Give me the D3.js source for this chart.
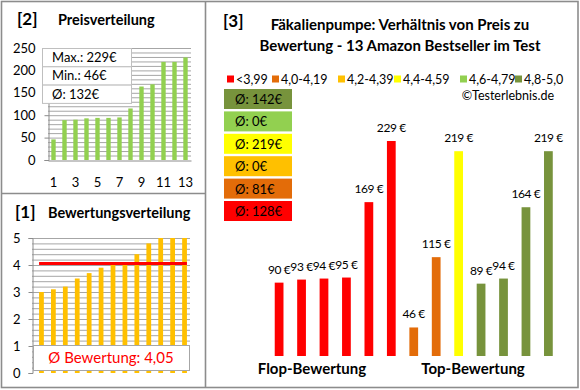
<!DOCTYPE html>
<html>
<head>
<meta charset="utf-8">
<script src="https://cdn.jsdelivr.net/npm/d3@7"></script>
<style>
  body { margin: 0; background: #fff; }
  svg { display: block; font-family: Lato, "Open Sans", sans-serif; }
</style>
</head>
<body>
<div class="chart"></div>
<script>

// ===============================
// Data
// ===============================

// prices of the 13 bestsellers, in the order of the right chart
const productPrices = [90, 93, 94, 95, 169, 229, 46, 115, 219, 89, 94, 164, 219];
// ratings of the same products
const productRatings = [3.0, 3.1, 3.2, 3.5, 3.7, 3.9, 4.0, 4.1, 4.4, 4.8, 5.0, 5.0, 5.0];

const groupLabels = ["<3,99", "4,0-4,19", "4,2-4,39", "4,4-4,59", "4,6-4,79", "4,8-5,0"];
const groupColors = ["#ff0000", "#e36c09", "#ffc000", "#ffff00", "#92d050", "#77933c"];
const groupThresholds = [4.0, 4.2, 4.4, 4.6, 4.8];

const priceTicks = [0, 50, 100, 150, 200, 250];
const priceXTicks = [1, 3, 5, 7, 9, 11, 13];
const ratingTicks = [0, 1, 2, 3, 4, 5];

const euro = v => `${v}€`;
const comma = v => v.toFixed(2).replace(".", ",");

const width = 580;
const height = 390;

const svg = d3.select(".chart")
    .append("svg")
    .attr("width", width)
    .attr("height", height);

// =========================
// Panel borders
// =========================

const frame = svg.append("g")
    .attr("fill", "none")
    .attr("stroke", "#8c8c8c")
    .attr("stroke-width", 1.6);

frame.append("rect").attr("x", 1.5).attr("y", 1.5).attr("width", 576.5).attr("height", 386);
frame.append("line").attr("x1", 205.5).attr("x2", 205.5).attr("y1", 1.5).attr("y2", 387.5);
frame.append("line").attr("x1", 1.5).attr("x2", 205.5).attr("y1", 193.5).attr("y2", 193.5);

const title = (x, y, num, label, numX) => {
    svg.append("text")
        .attr("x", numX)
        .attr("y", y)
        .style("font-size", "17px")
        .style("font-weight", "bold")
        .text(num);
    if (label) {
        svg.append("text")
            .attr("x", x)
            .attr("y", y)
            .style("font-size", "14.5px")
            .style("font-weight", "bold")
            .text(label);
    }
};

// ===============================
// [2] Preisverteilung
// ===============================

const pricesSorted = productPrices.slice().sort((a, b) => a - b);

title(58, 25, "[2]", "Preisverteilung", 17);

const px = d3.scaleBand()
    .domain(d3.range(1, 14))
    .range([48, 191])
    .paddingInner(0.6)
    .paddingOuter(0.3);

const py = d3.scaleLinear()
    .domain([0, 250])
    .range([160, 48]);

svg.append("g")
    .selectAll("line")
    .data(d3.range(10, 251, 10))
    .join("line")
    .attr("x1", 48)
    .attr("x2", 191)
    .attr("y1", d => py(d) + 0.5)
    .attr("y2", d => py(d) + 0.5)
    .attr("stroke", "#a6a6a6");

svg.append("g")
    .selectAll("rect")
    .data(pricesSorted)
    .join("rect")
    .attr("x", (d, i) => px(i + 1))
    .attr("width", px.bandwidth())
    .attr("y", d => py(d))
    .attr("height", d => py(0) - py(d))
    .attr("fill", "#92d050");

const pyAxis = svg.append("g")
    .attr("transform", "translate(48.5,0)")
    .call(d3.axisLeft(py).tickValues(priceTicks).tickSize(4).tickPadding(9));

const pxAxis = svg.append("g")
    .attr("transform", "translate(0,160.5)")
    .call(d3.axisBottom(px).tickValues(priceXTicks).tickSize(0).tickPadding(17));

[pyAxis, pxAxis].forEach(a => {
    a.select(".domain").attr("stroke", "#8c8c8c");
    a.selectAll(".tick line").attr("stroke", "#8c8c8c");
    a.selectAll("text").style("font-size", "13px").style("font-family", "Lato").attr("fill", "#000");
});

// stats box
const stats = [
    `Max.: ${euro(d3.max(pricesSorted))}`,
    `Min.: ${euro(d3.min(pricesSorted))}`,
    `Ø: ${euro(Math.round(d3.mean(pricesSorted)))}`
];

const statBox = svg.append("g");

statBox.selectAll("rect")
    .data(stats)
    .join("rect")
    .attr("x", 42.5)
    .attr("y", (d, i) => 48.5 + i * 18.3)
    .attr("width", 89)
    .attr("height", 18.3)
    .attr("fill", "#fff")
    .attr("stroke", "#bfbfbf");

statBox.selectAll("text")
    .data(stats)
    .join("text")
    .attr("x", 52)
    .attr("y", (d, i) => 62 + i * 18.3)
    .style("font-size", "13px")
    .text(d => d);

// ===============================
// [1] Bewertungsverteilung
// ===============================

const ratingsSorted = productRatings.slice().sort((a, b) => a - b);
const ratingMean = d3.mean(ratingsSorted);

title(48, 218, "[1]", "Bewertungsverteilung", 15);

const rx = d3.scaleBand()
    .domain(d3.range(1, 14))
    .range([35.5, 190.5])
    .paddingInner(0.6)
    .paddingOuter(0.3);

const ry = d3.scaleLinear()
    .domain([0, 5])
    .range([373, 238]);

svg.append("g")
    .selectAll("line")
    .data(d3.range(1, 26).map(d => d / 5))
    .join("line")
    .attr("x1", 32)
    .attr("x2", 190)
    .attr("y1", d => ry(d) + 0.5)
    .attr("y2", d => ry(d) + 0.5)
    .attr("stroke", "#a6a6a6");

svg.append("g")
    .selectAll("rect")
    .data(ratingsSorted)
    .join("rect")
    .attr("x", (d, i) => rx(i + 1))
    .attr("width", rx.bandwidth())
    .attr("y", d => ry(d))
    .attr("height", d => ry(0) - ry(d))
    .attr("fill", "#ffc000");

svg.append("line")
    .attr("x1", rx(1))
    .attr("x2", rx(13) + rx.bandwidth())
    .attr("y1", ry(ratingMean))
    .attr("y2", ry(ratingMean))
    .attr("stroke", "#ff0000")
    .attr("stroke-width", 3);

const ryAxis = svg.append("g")
    .attr("transform", "translate(32.5,0)")
    .call(d3.axisLeft(ry).tickValues(ratingTicks).tickFormat(d3.format("d")).tickSize(4).tickPadding(8));

ryAxis.select(".domain").attr("stroke", "#8c8c8c");
ryAxis.selectAll(".tick line").attr("stroke", "#8c8c8c");
ryAxis.selectAll("text").style("font-size", "13px").style("font-family", "Lato").attr("fill", "#000");

svg.append("rect")
    .attr("x", 33.5)
    .attr("y", 345.5)
    .attr("width", 156)
    .attr("height", 25)
    .attr("fill", "#fff")
    .attr("stroke", "#a6a6a6");

svg.append("text")
    .attr("x", 111)
    .attr("y", 363)
    .attr("text-anchor", "middle")
    .attr("fill", "#ff0000")
    .style("font-size", "15px")
    .text(`Ø Bewertung: ${comma(ratingMean)}`);

// ===============================
// [3] Preis zu Bewertung
// ===============================

title(0, 27, "[3]", null, 223);

svg.append("text")
    .attr("x", 400)
    .attr("y", 30)
    .attr("text-anchor", "middle")
    .style("font-size", "15px")
    .style("font-weight", "bold")
    .text("Fäkalienpumpe: Verhältnis von Preis zu");

svg.append("text")
    .attr("x", 400)
    .attr("y", 51)
    .attr("text-anchor", "middle")
    .style("font-size", "15px")
    .style("font-weight", "bold")
    .text("Bewertung - 13 Amazon Bestseller im Test");

// legend
const legendX = [227, 272, 338, 394, 460, 515];

const legend = svg.append("g")
    .selectAll("g")
    .data(groupLabels)
    .join("g")
    .attr("transform", (d, i) => `translate(${legendX[i]},79)`);

legend.append("rect")
    .attr("x", 0)
    .attr("y", -3.5)
    .attr("width", 7)
    .attr("height", 7)
    .attr("fill", (d, i) => groupColors[i]);

legend.append("text")
    .attr("x", 9)
    .attr("y", 4.5)
    .style("font-size", "12.5px")
    .text(d => d);

svg.append("text")
    .attr("x", 554)
    .attr("y", 100)
    .attr("text-anchor", "end")
    .style("font-size", "12.5px")
    .text("©Testerlebnis.de");

// group averages
const groupOf = d3.scaleThreshold()
    .domain(groupThresholds)
    .range(d3.range(6));

const products = productPrices.map((p, i) => ({
    price: p,
    group: groupOf(productRatings[i])
}));

const groupAvg = d3.range(6).map(g => {
    const vals = products.filter(d => d.group === g).map(d => d.price);
    return vals.length ? Math.round(d3.mean(vals)) : 0;
});

const boxOrder = d3.range(5, -1, -1);

const avgBoxes = svg.append("g")
    .selectAll("g")
    .data(boxOrder)
    .join("g")
    .attr("transform", (d, i) => `translate(224,${89 + i * 22.4})`);

avgBoxes.append("rect")
    .attr("width", 68)
    .attr("height", 20)
    .attr("fill", g => groupColors[g]);

avgBoxes.append("text")
    .attr("x", 11)
    .attr("y", 15)
    .style("font-size", "13px")
    .text(g => `Ø: ${euro(groupAvg[g])}`);

// bars
const bx = d3.scaleBand()
    .domain(d3.range(products.length))
    .range([268, 559.5])
    .paddingInner(0.61)
    .paddingOuter(0.3);

const by = d3.scaleLinear()
    .domain([18, 229])
    .range([356, 141]);

svg.append("g")
    .selectAll("rect")
    .data(products)
    .join("rect")
    .attr("x", (d, i) => bx(i))
    .attr("width", bx.bandwidth())
    .attr("y", d => by(d.price))
    .attr("height", d => by(by.domain()[0]) - by(d.price))
    .attr("fill", d => groupColors[d.group]);

svg.append("g")
    .selectAll("text")
    .data(products)
    .join("text")
    .attr("x", (d, i) => bx(i) + bx.bandwidth() / 2)
    .attr("y", d => by(d.price) - 9)
    .attr("text-anchor", "middle")
    .style("font-size", "12px")
    .style("letter-spacing", "-0.4px")
    .text(d => `${d.price} €`);

svg.append("text")
    .attr("x", 312)
    .attr("y", 374)
    .attr("text-anchor", "middle")
    .style("font-size", "15px")
    .style("font-weight", "bold")
    .text("Flop-Bewertung");

svg.append("text")
    .attr("x", 473)
    .attr("y", 374)
    .attr("text-anchor", "middle")
    .style("font-size", "15px")
    .style("font-weight", "bold")
    .text("Top-Bewertung");

</script>
</body>
</html>
